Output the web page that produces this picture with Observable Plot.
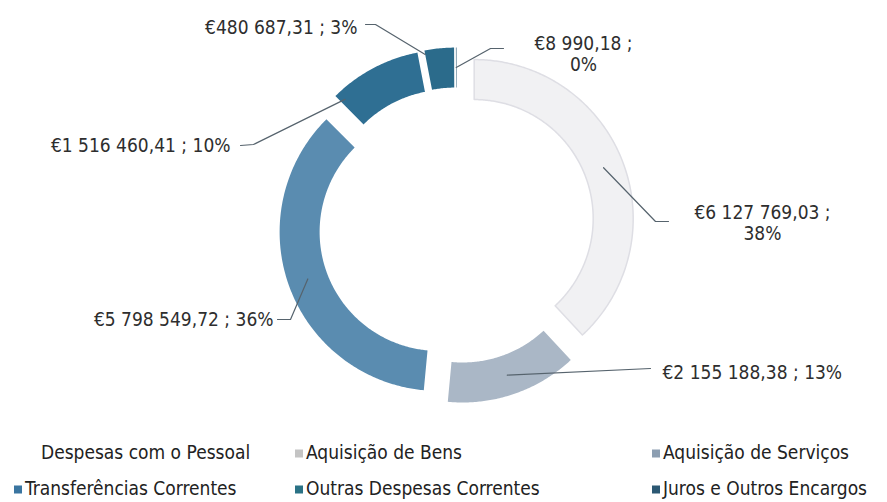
<!DOCTYPE html>
<html><head><meta charset="utf-8">
<script src="https://cdn.jsdelivr.net/npm/d3@7"></script>
<script src="https://cdn.jsdelivr.net/npm/@observablehq/plot@0.6"></script>
<style>
body{margin:0;background:#fff;font-family:"DejaVu Sans Condensed","Liberation Sans",sans-serif;}
#chart svg{display:block;}
#legend{position:relative;width:887px;height:72px;}
.item{position:absolute;font-size:19px;color:#222;white-space:nowrap;transform:translateY(-50%);line-height:1;}
.sw{display:inline-block;width:8px;height:8px;margin-right:3px;vertical-align:1px;}
</style></head><body><div id="chart"></div><div id="legend"></div>
<script>
// ---- data ----
const categories = ["Despesas com o Pessoal","Aquisição de Bens","Aquisição de Serviços","Transferências Correntes","Outras Despesas Correntes","Juros e Outros Encargos"];
const values = [6127769.03, 2155188.38, 5798549.72, 1516460.41, 480687.31, 8990.18];
const percents = [38, 13, 36, 10, 3, 0];

// ---- style / layout ----
const sliceColors = ["#f1f1f3","#aab7c6","#5a8cb0","#2f6f93","#2b6b8b","#1b4c6a"];
const swatchColors = ["#ffffff","#c4c4c4","#8c9eb1","#3a75a0","#2a7285","#2c5873"];
const R_OUT = 159, R_IN = 119, EXPLODE = 19;
const labelLayout = [
  {split:true,  tx:306,  ty:-2.5,  anchor:"middle", lead:[[212,-4],[199,-4]],     t:0.5,  rho:139},
  {split:false, tx:206,  ty:147,   anchor:"start",  lead:[[194,143]],             t:0.5,  rho:139},
  {split:false, tx:-183, ty:94,    anchor:"end",    lead:[[-179,94],[-166,94]],   t:0.5,  rho:139},
  {split:false, tx:-226, ty:-80,   anchor:"end",    lead:[[-216,-80],[-203,-81]], t:0.05, rho:150},
  {split:false, tx:-99,  ty:-198,  anchor:"end",    lead:[[-91,-201],[-81,-201]], t:0,    rho:155},
  {split:true,  tx:127,  ty:-171.5,anchor:"middle", lead:[[47,-177],[34,-177]],   t:0.5,  rho:139}
];
const legendPos = [[30,22],[295,22],[652,22],[14,58],[295,58],[652,58]];

// ---- geometry from data ----
const total = d3.sum(values);
let acc = 0;
const slices = categories.map((c, i) => {
  const a0 = acc / total * 2 * Math.PI; acc += values[i];
  const a1 = acc / total * 2 * Math.PI;
  const mid = (a0 + a1) / 2;
  return {c, i, a0, a1, mid, ox: EXPLODE * Math.sin(mid), oy: -EXPLODE * Math.cos(mid)};
});
const pt = (s, rho, a) => ({x: s.ox + rho * Math.sin(a), y: s.oy - rho * Math.cos(a)});
const ringPts = [];
for (const s of slices) {
  const n = Math.max(2, Math.ceil((s.a1 - s.a0) / 0.01));
  const outer = d3.range(n + 1).map(k => s.a0 + (s.a1 - s.a0) * k / n);
  for (const a of outer) ringPts.push({c: s.c, ...pt(s, R_OUT, a)});
  for (const a of outer.slice().reverse()) ringPts.push({c: s.c, ...pt(s, R_IN, a)});
  ringPts.push({c: s.c, ...pt(s, R_OUT, s.a0)});
}

const fmt = d3.formatLocale({decimal: ",", thousands: " ", grouping: [3], currency: ["€", ""]}).format(",.2f");
const textRows = [];
const leadPts = [];
slices.forEach((s, i) => {
  const L = labelLayout[i];
  const money = "€" + fmt(values[i]);
  const pc = percents[i] + "%";
  const txt = L.split ? money + " ;\n" + pc : money + " ; " + pc;
  textRows.push({x: L.tx, y: L.ty, text: txt, anchor: L.anchor});
  const a = s.a0 + (s.a1 - s.a0) * L.t;
  const end = pt(s, L.rho, a);
  for (const [x, y] of L.lead) leadPts.push({c: s.c, x, y});
  leadPts.push({c: s.c, ...end});
});

const W = 887, H = 430, CX = 456, CY = 225;
const txt = (anchor) => Plot.text(textRows.filter(d => d.anchor === anchor), {
  x: "x", y: "y", text: "text", textAnchor: anchor, fontSize: 19, lineHeight: 1.08,
  fill: "#2e2e2e", fontFamily: '"DejaVu Sans Condensed","Liberation Sans",sans-serif'
});
const chart = Plot.plot({
  width: W, height: H, margin: 0,
  x: {domain: [-CX, W - CX], range: [0, W], axis: null},
  y: {domain: [-CY, H - CY], range: [0, H], axis: null},
  color: {domain: categories, range: sliceColors},
  marks: [
    Plot.line(ringPts, {x: "x", y: "y", z: "c", fill: "c", stroke: "none", curve: "linear"}),
    Plot.line(ringPts.filter(d => d.c === categories[0]), {x: "x", y: "y", stroke: "#dedee4", strokeWidth: 1.5}),
    Plot.line(leadPts, {x: "x", y: "y", z: "c", stroke: "#56636d", strokeWidth: 1.2}),
    txt("start"), txt("end"), txt("middle")
  ]
});
document.getElementById("chart").append(chart);

const leg = document.getElementById("legend");
categories.forEach((c, i) => {
  const d = document.createElement("div");
  d.className = "item";
  d.style.left = legendPos[i][0] + "px";
  d.style.top = legendPos[i][1] + "px";
  d.innerHTML = `<span class="sw" style="background:${swatchColors[i]}"></span>${c}`;
  leg.append(d);
});
</script></body></html>
